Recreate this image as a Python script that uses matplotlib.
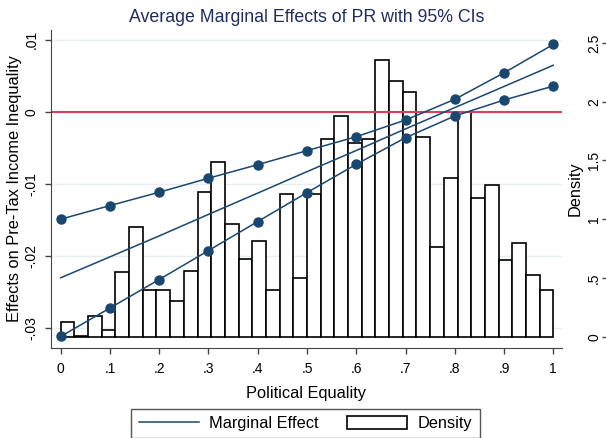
import numpy as np
import matplotlib.pyplot as plt

plt.rcParams['font.family'] = ['Liberation Sans', 'DejaVu Sans']

# values
political_equality = [0.0, 0.1, 0.2, 0.3, 0.4, 0.5, 0.6, 0.7, 0.8, 0.9, 1.0]
marginal_effect = [-0.0230, -0.0201, -0.0172, -0.01422, -0.01127, -0.0083,
                   -0.00537, -0.00238, 0.00057, 0.0035, 0.00644]
ci_upper = [-0.01488, -0.0130, -0.01115, -0.00921, -0.00733, -0.00539,
            -0.00346, -0.00115, 0.00172, 0.00539, 0.00932]
ci_lower = [-0.03112, -0.02719, -0.02324, -0.01923, -0.01521, -0.0112,
            -0.00728, -0.0036, -0.00059, 0.00162, 0.00355]

# histogram of political equality, 36 bins on [0, 1]
density = [0.128, 0.006, 0.176, 0.057, 0.547, 0.936, 0.397, 0.397, 0.306,
           0.556, 1.228, 1.489, 0.959, 0.658, 0.814, 0.397, 1.214, 0.496,
           1.214, 1.683, 1.878, 1.645, 1.683, 2.355, 2.176, 2.085, 1.702,
           0.760, 1.353, 1.909, 1.177, 1.291, 0.653, 0.800, 0.525, 0.400]

x_ticks = [0.0, 0.1, 0.2, 0.3, 0.4, 0.5, 0.6, 0.7, 0.8, 0.9, 1.0]
x_labels = ['0', '.1', '.2', '.3', '.4', '.5', '.6', '.7', '.8', '.9', '1']
left_ticks = [-0.03, -0.02, -0.01, 0.0, 0.01]
left_labels = ['-.03', '-.02', '-.01', '0', '.01']
right_ticks = [0, 0.5, 1, 1.5, 2, 2.5]
right_labels = ['0', '.5', '1', '1.5', '2', '2.5']

navy = '#1a476f'
axis_grey = '#444444'
title_size = 11.8

fig = plt.figure(figsize=(6.06, 4.38), dpi=100)
ax = fig.add_axes([0.0837, 0.2066, 0.8437, 0.7249])
ax2 = ax.twinx()

# lines go on top of the bars
ax.set_zorder(2)
ax.patch.set_visible(False)
ax2.set_zorder(1)

# density histogram (right axis)
edges = np.linspace(0, 1, len(density) + 1)
bars = ax2.bar(edges[:-1], density, width=edges[1] - edges[0], align='edge',
               color='white', edgecolor='black', linewidth=1.2, zorder=2,
               label='Density')

# light grid at the left-axis ticks, behind the bars
for g in left_ticks:
    ax2.plot([0, 1], [g, g], transform=ax.get_yaxis_transform(),
             color='#e6eef0', lw=1.0, zorder=0.5)

# marginal effect and CIs (left axis)
ax.axhline(0, color='#d8405c', lw=1.5, zorder=2)
me_line, = ax.plot(political_equality, marginal_effect, color=navy, lw=1.1,
                   zorder=3, label='Marginal Effect')
ax.plot(political_equality, ci_upper, color=navy, lw=1.1, marker='o',
        markersize=6.5, zorder=3)
ax.plot(political_equality, ci_lower, color=navy, lw=1.1, marker='o',
        markersize=6.5, zorder=3)

ax.set_xlim(-0.0203, 1.0177)
ax.set_ylim(-0.03266, 0.01132)
ax2.set_ylim(-0.0919, 2.610)

ax.set_xticks(x_ticks, x_labels)
ax.set_yticks(left_ticks, left_labels)
ax2.set_yticks(right_ticks, right_labels)

for a in (ax, ax2):
    a.spines['top'].set_visible(False)
ax.spines['right'].set_visible(False)
ax2.spines['left'].set_visible(False)
ax2.spines['bottom'].set_visible(False)
ax.spines['left'].set_color(axis_grey)
ax.spines['bottom'].set_color(axis_grey)
ax2.spines['right'].set_position(('outward', 31.7))
ax2.spines['right'].set_visible(False)

ax.tick_params(axis='x', direction='out', length=4.3, width=1, color=axis_grey,
               pad=6, labelsize=10)
ax.tick_params(axis='y', direction='out', length=4.3, width=1, color=axis_grey,
               pad=4.3, labelsize=10, labelrotation=90)
ax2.tick_params(axis='y', direction='in', length=3, width=1, color=axis_grey,
                pad=-13.7, labelsize=10, labelrotation=90)
for lab in ax.get_yticklabels() + ax2.get_yticklabels():
    lab.set_va('center')

ax.set_xlabel('Political Equality', fontsize=title_size, labelpad=7)
ax.set_ylabel('Effects on Pre-Tax Income Inequality', fontsize=title_size)
ax.yaxis.set_label_coords(-0.056, 0.5)
ax2.set_ylabel('Density', fontsize=title_size)
ax2.yaxis.set_label_coords(1.0117, 0.5)

ax.set_title('Average Marginal Effects of PR with 95% CIs', fontsize=12.8,
             color='#1e2d5e', pad=5.5)

fig.legend(handles=[me_line, bars], labels=['Marginal Effect', 'Density'],
           loc='upper center', bbox_to_anchor=(0.504, 0.0669), ncol=2,
           fontsize=title_size, frameon=True, fancybox=False,
           edgecolor='#555555', framealpha=1, handlelength=3.7,
           handleheight=0.8, handletextpad=0.62, columnspacing=1.7,
           borderpad=0.45, borderaxespad=0)

fig.savefig('out.png', dpi=100)
